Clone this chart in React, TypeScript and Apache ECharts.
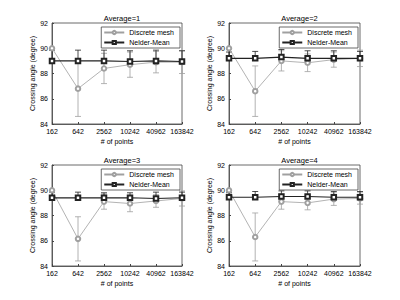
import React, { useEffect, useRef } from "react";
import * as echarts from "echarts";

const categories = ["162", "642", "2562", "10242", "40962", "163842"];
const titles = ["Average=1", "Average=2", "Average=3", "Average=4"];
const yTicks = [84, 86, 88, 90, 92];

const p1Discrete = [90.0, 86.8, 88.4, 88.7, 88.9, 88.9];
const p1DiscreteErr = [0, 2.2, 1.2, 1.0, 0.85, 0.9];
const p1Nelder = [89.0, 89.0, 89.0, 88.95, 89.0, 88.95];
const p1NelderErr = [0.85, 0.85, 0.85, 0.85, 0.85, 0.85];

const p2Discrete = [90.0, 86.6, 89.0, 88.85, 89.1, 89.2];
const p2DiscreteErr = [0, 2.0, 0.8, 0.7, 0.6, 0.65];
const p2Nelder = [89.2, 89.2, 89.3, 89.2, 89.2, 89.2];
const p2NelderErr = [0.5, 0.55, 0.6, 0.6, 0.6, 0.55];

const p3Discrete = [90.0, 86.15, 89.1, 88.95, 89.15, 89.35];
const p3DiscreteErr = [0, 1.75, 0.6, 0.65, 0.5, 0.6];
const p3Nelder = [89.4, 89.4, 89.4, 89.4, 89.35, 89.4];
const p3NelderErr = [0.45, 0.45, 0.4, 0.4, 0.5, 0.45];

const p4Discrete = [90.0, 86.3, 89.1, 89.0, 89.3, 89.35];
const p4DiscreteErr = [0, 1.9, 0.6, 0.55, 0.5, 0.45];
const p4Nelder = [89.45, 89.45, 89.5, 89.5, 89.45, 89.45];
const p4NelderErr = [0.35, 0.45, 0.45, 0.45, 0.45, 0.45];

const panels = [
  { d: p1Discrete, de: p1DiscreteErr, n: p1Nelder, ne: p1NelderErr },
  { d: p2Discrete, de: p2DiscreteErr, n: p2Nelder, ne: p2NelderErr },
  { d: p3Discrete, de: p3DiscreteErr, n: p3Nelder, ne: p3NelderErr },
  { d: p4Discrete, de: p4DiscreteErr, n: p4Nelder, ne: p4NelderErr },
];

const FONT = "'Liberation Sans', Arial, sans-serif";
const GREY = "#a0a0a0";
const BLACK = "#222";
const AXIS = "#444";

const gridBoxes = [
  { left: 52, top: 23, width: 130, height: 101 },
  { left: 229, top: 23, width: 131, height: 101 },
  { left: 52, top: 165, width: 130, height: 101 },
  { left: 229, top: 165, width: 131, height: 101 },
];

function errRender(color: string, both: boolean) {
  return (params: any, api: any) => {
    const x = api.value(0);
    const lo = api.value(1);
    const hi = api.value(2);
    const p1 = api.coord([x, lo]);
    const p2 = api.coord([x, hi]);
    const w = 3;
    const style = { stroke: color, lineWidth: 0.8, fill: "none" };
    const children: any[] = [
      { type: "line", shape: { x1: p1[0], y1: p1[1], x2: p2[0], y2: p2[1] }, style },
      { type: "line", shape: { x1: p2[0] - w, y1: p2[1], x2: p2[0] + w, y2: p2[1] }, style },
    ];
    if (both) {
      children.push({ type: "line", shape: { x1: p1[0] - w, y1: p1[1], x2: p1[0] + w, y2: p1[1] }, style });
    }
    return { type: "group", children };
  };
}

export default function App() {
  const ref = useRef<HTMLDivElement>(null);
  useEffect(() => {
    if (!ref.current) return;
    const chart = echarts.init(ref.current, undefined, { renderer: "svg" });
    const grid: any[] = [];
    const xAxis: any[] = [];
    const yAxis: any[] = [];
    const title: any[] = [];
    const legend: any[] = [];
    const series: any[] = [];
    gridBoxes.forEach((g, i) => {
      grid.push({ ...g, show: true, borderColor: AXIS, borderWidth: 0.8, backgroundColor: "#fff" });
      title.push({
        text: titles[i],
        left: g.left + g.width / 2,
        top: g.top - 14,
        textAlign: "center",
        textStyle: { fontSize: 7.5, fontWeight: "normal", color: "#000", fontFamily: FONT },
      });
      xAxis.push({
        type: "category",
        gridIndex: i,
        data: categories,
        boundaryGap: false,
        name: "# of points",
        nameLocation: "middle",
        nameGap: 14,
        nameTextStyle: { fontSize: 7, color: "#000", fontFamily: FONT },
        axisLine: { lineStyle: { color: AXIS, width: 0.8 } },
        axisTick: { inside: true, length: 2, lineStyle: { color: AXIS } },
        axisLabel: { fontSize: 7, color: "#000", fontFamily: FONT, margin: 4, interval: 0 },
        splitLine: { show: false },
      });
      yAxis.push({
        type: "value",
        gridIndex: i,
        min: 84,
        max: 92,
        interval: 2,
        name: "Crossing angle (degree)",
        nameLocation: "middle",
        nameGap: 15,
        nameTextStyle: { fontSize: 7, color: "#000", fontFamily: FONT },
        axisLine: { show: true, lineStyle: { color: AXIS, width: 0.8 } },
        axisTick: { show: true, inside: true, length: 2, lineStyle: { color: AXIS } },
        axisLabel: {
          fontSize: 7,
          color: "#000",
          fontFamily: FONT,
          margin: 4,
          formatter: (v: number) => (yTicks.includes(v) ? String(v) : ""),
        },
        splitLine: { show: false },
      });
      legend.push({
        data: ["Discrete mesh", "Nelder-Mean"],
        orient: "vertical",
        right: 400 - (g.left + g.width) + 2,
        top: g.top + 4,
        itemWidth: 20,
        itemHeight: 4,
        itemGap: 3,
        padding: [2, 6, 2, 2],
        borderColor: AXIS,
        borderWidth: 0.8,
        backgroundColor: "#fff",
        textStyle: { fontSize: 7, color: "#000", fontFamily: FONT },
      });
      const p = panels[i];
      series.push({
        type: "custom",
        name: "Discrete mesh err",
        xAxisIndex: i,
        yAxisIndex: i,
        renderItem: errRender(GREY, true),
        data: p.d.map((v, k) => [k, v - p.de[k], v + p.de[k]]),
        silent: true,
        z: 1,
      });
      series.push({
        type: "custom",
        name: "Nelder-Mean err",
        xAxisIndex: i,
        yAxisIndex: i,
        renderItem: errRender(BLACK, false),
        data: p.n.map((v, k) => [k, v, v + p.ne[k]]),
        silent: true,
        z: 1,
      });
      series.push({
        type: "line",
        name: "Discrete mesh",
        xAxisIndex: i,
        yAxisIndex: i,
        data: p.d,
        symbol: "emptyCircle",
        symbolSize: 4.5,
        lineStyle: { color: GREY, width: 0.8 },
        itemStyle: { color: GREY, borderWidth: 0.7 },
        z: 2,
      });
      series.push({
        type: "line",
        name: "Nelder-Mean",
        xAxisIndex: i,
        yAxisIndex: i,
        data: p.n,
        symbol: "emptyRect",
        symbolSize: 4.5,
        lineStyle: { color: BLACK, width: 1.1 },
        itemStyle: { color: BLACK, borderWidth: 0.7 },
        z: 3,
      });
    });
    chart.setOption({
      animation: false,
      backgroundColor: "#fff",
      title,
      grid,
      xAxis,
      yAxis,
      legend,
      series,
    });
    return () => chart.dispose();
  }, []);
  return (
    <div
      ref={ref}
      style={{ position: "fixed", left: 0, top: 0, width: 400, height: 300 }}
    />
  );
}
